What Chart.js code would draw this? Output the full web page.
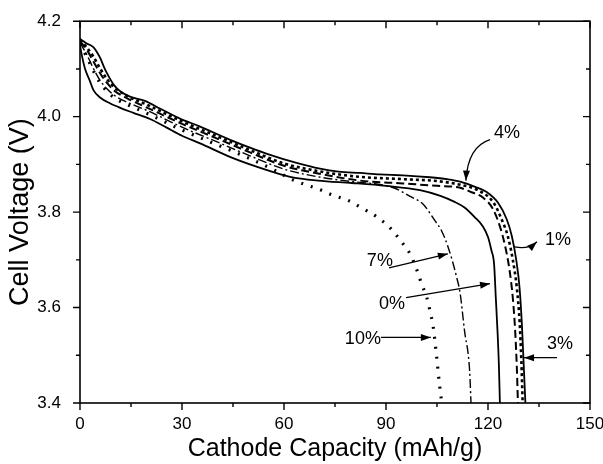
<!DOCTYPE html>
<html>
<head>
<meta charset="utf-8">
<script src="https://cdn.jsdelivr.net/npm/chart.js@4"></script>
<style>
  html, body { margin: 0; padding: 0; background: #fff; }
  #wrap { width: 603px; height: 464px; }
</style>
</head>
<body>
<div id="wrap"><canvas id="chart" width="603" height="464"></canvas></div>
<script>
// 放電曲線資料
const xTicks = [0, 30, 60, 90, 120, 150];
const yTicks = [3.4, 3.6, 3.8, 4.0, 4.2];

// 0%
const cap0 = [0, 0.5, 1.5, 2.9, 4, 5.9, 8.8, 12, 15.7, 20.6, 25.5, 30, 35.3, 45, 55, 61.8, 70, 80, 90, 100, 106, 110, 113, 116, 118.5, 120, 121, 121.8, 122.3, 122.8, 123.2, 123.5];
const volt0 = [4.15, 4.13, 4.10, 4.075, 4.055, 4.04, 4.028, 4.018, 4.008, 3.995, 3.977, 3.96, 3.944, 3.913, 3.888, 3.874, 3.866, 3.861, 3.855, 3.846, 3.834, 3.822, 3.81, 3.79, 3.77, 3.748, 3.72, 3.69, 3.62, 3.55, 3.48, 3.4];
// 1%
const cap1 = [0, 2, 4, 6, 8, 10, 14, 20, 30, 40, 50, 60, 70, 82.4, 95, 105, 111.8, 114.7, 118.6, 121.5, 123.5, 125, 126.3, 127.3, 128, 128.5, 128.8];
const volt1 = [4.158, 4.14, 4.115, 4.09, 4.07, 4.055, 4.038, 4.018, 3.985, 3.955, 3.925, 3.897, 3.881, 3.866, 3.86, 3.855, 3.851, 3.843, 3.83, 3.806, 3.77, 3.73, 3.68, 3.62, 3.55, 3.47, 3.4];
// 3%
const cap3 = [0, 2, 4, 6, 8, 10, 14, 20, 30, 40, 50, 60, 70, 82, 95, 105, 112, 116.7, 121.6, 124, 125.8, 127.3, 128.5, 129.3, 129.8, 130.2];
const volt3 = [4.16, 4.145, 4.125, 4.10, 4.078, 4.062, 4.043, 4.024, 3.99, 3.96, 3.93, 3.902, 3.886, 3.874, 3.869, 3.865, 3.857, 3.847, 3.82, 3.785, 3.75, 3.70, 3.64, 3.57, 3.49, 3.4];
// 4%
const cap4 = [0, 1, 2, 3, 4, 5, 6, 7, 8, 10, 12, 14.7, 19.1, 23.5, 29.4, 35, 44, 50, 55, 63.7, 70.6, 76, 82.4, 88.2, 95, 102.9, 108, 111.8, 116.2, 119.6, 123, 125.5, 127, 128.3, 129.3, 130, 130.5, 131];
const volt4 = [4.163, 4.158, 4.153, 4.15, 4.145, 4.135, 4.122, 4.105, 4.09, 4.066, 4.052, 4.042, 4.033, 4.017, 3.996, 3.98, 3.952, 3.935, 3.922, 3.903, 3.891, 3.885, 3.882, 3.879, 3.877, 3.873, 3.869, 3.864, 3.853, 3.842, 3.819, 3.785, 3.75, 3.70, 3.64, 3.56, 3.48, 3.4];
// 7%
const cap7 = [0, 2, 4, 6, 8, 10, 14, 20, 30, 40, 50, 60, 70, 80, 88, 92.2, 97.1, 101, 104.4, 106.4, 108.3, 110.8, 111.8, 113.1, 114.6, 115];
const volt7 = [4.155, 4.13, 4.10, 4.075, 4.058, 4.045, 4.03, 4.012, 3.978, 3.948, 3.918, 3.89, 3.874, 3.864, 3.858, 3.851, 3.833, 3.816, 3.782, 3.76, 3.726, 3.663, 3.63, 3.551, 3.467, 3.4];
// 10%
const cap10 = [0, 2, 4, 6, 8, 10, 14, 20, 30, 40, 50, 58, 61.8, 65.7, 70.6, 74.5, 79, 82.8, 87.3, 91.2, 94.3, 97.1, 99, 100.5, 102, 102.9, 103.9, 104.9, 105.7, 106.4];
const volt10 = [4.152, 4.125, 4.095, 4.07, 4.053, 4.04, 4.025, 4.006, 3.972, 3.942, 3.912, 3.885, 3.87, 3.859, 3.847, 3.835, 3.824, 3.809, 3.79, 3.767, 3.74, 3.712, 3.68, 3.649, 3.621, 3.594, 3.559, 3.496, 3.441, 3.4];

// 標註: 文字位置與箭頭 (資料座標)
const notes = [
  { text: '4%', tx: 125.6, ty: 3.965, from: [120.6, 3.952], ctrl: [114.1, 3.9375], to: [113.5, 3.866] },
  { text: '1%', tx: 140.6, ty: 3.742, from: [127.9, 3.727], ctrl: [131.8, 3.721], to: [134.4, 3.738] },
  { text: '7%', tx: 88.2, ty: 3.698, from: [90.9, 3.683], to: [108.2, 3.7125] },
  { text: '0%', tx: 91.8, ty: 3.608, from: [95.9, 3.621], to: [120.6, 3.65] },
  { text: '10%', tx: 83.2, ty: 3.535, from: [88.5, 3.5375], to: [103.2, 3.5375] },
  { text: '3%', tx: 141.2, ty: 3.523, from: [140.3, 3.495], to: [130.6, 3.495] }
];

function pts(xs, ys) {
  return xs.map((x, i) => ({ x: x, y: ys[i] }));
}

function series(label, xs, ys, dash, width, cap) {
  return {
    label: label,
    data: pts(xs, ys),
    borderColor: '#000',
    borderWidth: width,
    borderDash: dash,
    borderCapStyle: cap || 'butt',
    pointRadius: 0,
    fill: false,
    cubicInterpolationMode: 'monotone'
  };
}

// 外框與刻度
const frame = {
  id: 'frame',
  afterDraw(chart) {
    const ctx = chart.ctx;
    const a = chart.chartArea;
    const sx = chart.scales.x, sy = chart.scales.y;
    ctx.save();
    ctx.strokeStyle = '#000';
    ctx.lineWidth = 1.6;
    ctx.strokeRect(a.left, a.top, a.right - a.left, a.bottom - a.top);
    ctx.lineWidth = 1.4;
    ctx.beginPath();
    for (let v = 0; v <= 150; v += 15) {
      const p = sx.getPixelForValue(v);
      const len = v % 30 === 0 ? 7 : 4;
      ctx.moveTo(p, a.bottom); ctx.lineTo(p, a.bottom + len);
      ctx.moveTo(p, a.top); ctx.lineTo(p, a.top + len);
    }
    for (let k = 34; k <= 42; k++) {
      const p = sy.getPixelForValue(k / 10);
      const len = k % 2 === 0 ? 7 : 4;
      ctx.moveTo(a.left, p); ctx.lineTo(a.left - len, p);
      ctx.moveTo(a.right, p); ctx.lineTo(a.right - len, p);
    }
    ctx.stroke();

    // 標註
    ctx.fillStyle = '#000';
    ctx.font = '18px "Liberation Sans", Arial, sans-serif';
    ctx.textAlign = 'center';
    ctx.textBaseline = 'middle';
    ctx.lineWidth = 1.3;
    notes.forEach(n => {
      ctx.fillText(n.text, sx.getPixelForValue(n.tx), sy.getPixelForValue(n.ty));
      const x0 = sx.getPixelForValue(n.from[0]), y0 = sy.getPixelForValue(n.from[1]);
      const x1 = sx.getPixelForValue(n.to[0]), y1 = sy.getPixelForValue(n.to[1]);
      ctx.beginPath();
      ctx.moveTo(x0, y0);
      let ang;
      if (n.ctrl) {
        const cx = sx.getPixelForValue(n.ctrl[0]), cy = sy.getPixelForValue(n.ctrl[1]);
        ctx.quadraticCurveTo(cx, cy, x1, y1);
        ang = Math.atan2(y1 - cy, x1 - cx);
      } else {
        ctx.lineTo(x1, y1);
        ang = Math.atan2(y1 - y0, x1 - x0);
      }
      ctx.stroke();
      const L = 10, W = 3.5;
      ctx.beginPath();
      ctx.moveTo(x1, y1);
      ctx.lineTo(x1 - L * Math.cos(ang) + W * Math.sin(ang), y1 - L * Math.sin(ang) - W * Math.cos(ang));
      ctx.lineTo(x1 - L * Math.cos(ang) - W * Math.sin(ang), y1 - L * Math.sin(ang) + W * Math.cos(ang));
      ctx.closePath();
      ctx.fill();
    });
    ctx.restore();
  }
};

const fontFam = '"Liberation Sans", Arial, sans-serif';

new Chart(document.getElementById('chart'), {
  type: 'line',
  data: {
    datasets: [
      series('0%', cap0, volt0, [], 1.8),
      series('1%', cap1, volt1, [8, 4], 2),
      series('3%', cap3, volt3, [3, 3], 2.6),
      series('4%', cap4, volt4, [], 1.8),
      series('7%', cap7, volt7, [9, 3, 2, 3], 1.4),
      series('10%', cap10, volt10, [2, 8], 3.2)
    ]
  },
  options: {
    responsive: false,
    animation: false,
    layout: { padding: { left: 0, right: 13, top: 19, bottom: 0 } },
    plugins: { legend: { display: false }, tooltip: { enabled: false } },
    scales: {
      x: {
        type: 'linear',
        min: 0, max: 150,
        grid: { display: false },
        border: { display: false },
        afterBuildTicks: s => { s.ticks = xTicks.map(v => ({ value: v })); },
        afterFit: s => { s.height = 61; s.paddingLeft = 0; s.paddingRight = 0; },
        ticks: { color: '#000', padding: 3, font: { size: 17, family: fontFam }, maxRotation: 0 },
        title: { display: true, text: 'Cathode Capacity (mAh/g)', color: '#000', font: { size: 25, family: fontFam }, padding: { top: 0, bottom: 0 } }
      },
      y: {
        min: 3.4, max: 4.2,
        grid: { display: false },
        border: { display: false },
        afterBuildTicks: s => { s.ticks = yTicks.map(v => ({ value: v })); },
        afterFit: s => { s.width = 80; },
        ticks: { color: '#000', padding: 11, font: { size: 17, family: fontFam }, callback: v => Number(v).toFixed(1) },
        title: { display: true, text: 'Cell Voltage (V)', color: '#000', font: { size: 27, family: fontFam }, padding: { top: 4, bottom: 0 } }
      }
    }
  },
  plugins: [frame]
});
</script>
</body>
</html>
